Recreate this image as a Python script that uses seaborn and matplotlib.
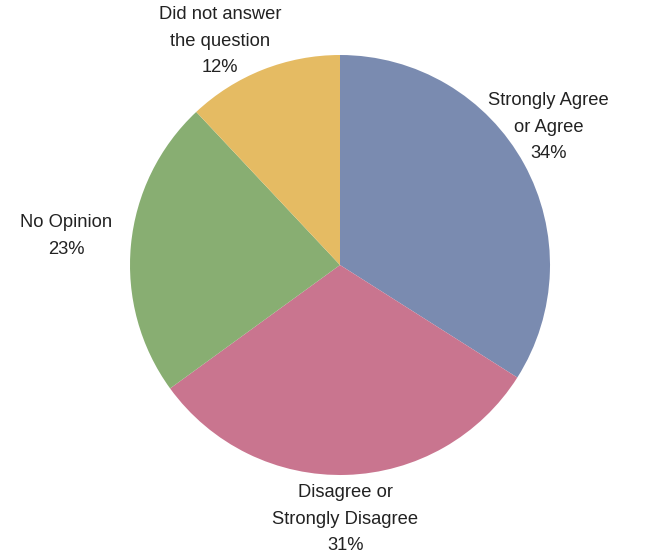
import matplotlib
matplotlib.use("Agg")
import matplotlib.pyplot as plt
import seaborn as sns
import numpy as np

# Survey responses (percent)
categories = ["Strongly Agree\nor Agree", "Disagree or\nStrongly Disagree", "No Opinion", "Did not answer\nthe question"]
shares = [34, 31, 23, 12]
colors = ["#7a8bb0", "#c9758f", "#88ae72", "#e5bb63"]

sns.set_theme(style="white")
plt.rcParams["font.family"] = ["Liberation Sans", "DejaVu Sans"]

W, H = 647, 554
fig = plt.figure(figsize=(W / 100, H / 100), dpi=100)
ax = fig.add_axes([0, 0, 1, 1])

R = 210.0
cx, cy = 340.0, 265.0  # pie centre in pixels from top-left

wedges, _ = ax.pie(shares, colors=colors, startangle=90, counterclock=False,
                   radius=1.0, wedgeprops=dict(linewidth=0))

ax.set_xlim(-cx / R, (W - cx) / R)
ax.set_ylim(-(H - cy) / R, cy / R)
ax.set_aspect("equal")
ax.axis("off")

# label placement: (angle in degrees, distance in radii) around the centre
label_layout = [(33.5, 1.19), (-88.8, 1.21), (174.0, 1.31), (118.2, 1.21)]
for cat, val, (ang, dist) in zip(categories, shares, label_layout):
    t = np.deg2rad(ang)
    ax.text(dist * np.cos(t), dist * np.sin(t), f"{cat}\n{val}%",
            ha="center", va="center", fontsize=13.2, color="#222222",
            linespacing=1.76)

fig.savefig("out.png", dpi=100)
